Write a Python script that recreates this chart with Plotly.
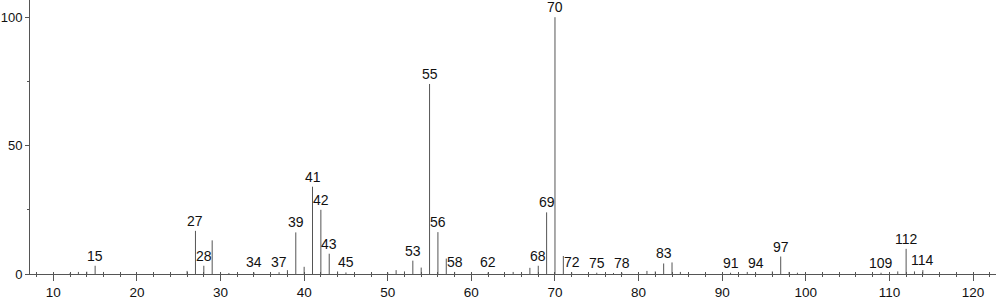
import plotly.graph_objects as go

# m/z values and relative intensities (%)
mz = [12, 13, 14, 15, 16, 26, 27, 28, 29, 30, 31, 34, 37, 38, 39, 40, 41, 42, 43, 44,
      45, 50, 51, 52, 53, 54, 55, 56, 57, 58, 62, 65, 66, 67, 68, 69, 70, 71, 72, 75,
      77, 78, 81, 82, 83, 84, 85, 91, 93, 94, 96, 97, 98, 99, 109, 111, 112, 113, 114]
intensity = [0.3, 0.8, 0.9, 3.2, 0.8, 1.2, 16.8, 3.2, 13.1, 0.6, 0.4, 0.6, 0.7, 1.5, 16.2, 2.8, 34.0, 25.0, 7.9, 1.0,
             0.6, 0.6, 1.5, 1.0, 5.2, 2.5, 74.0, 16.3, 6.0, 0.8, 0.6, 0.8, 0.6, 2.4, 3.2, 24.0, 100.0, 7.0, 0.6, 0.5,
             0.4, 0.5, 1.2, 1.0, 4.1, 4.5, 0.8, 0.5, 0.8, 0.5, 1.0, 6.8, 0.8, 0.5, 0.5, 1.0, 9.8, 1.0, 1.5]
labeled = [15, 27, 28, 34, 37, 39, 41, 42, 43, 45, 53, 55, 56, 58, 62, 68, 69, 70, 72, 75,
           78, 83, 91, 94, 97, 109, 112, 114]

xs, ys = [], []
for m, h in zip(mz, intensity):
    xs += [m, m, None]
    ys += [0, h, None]

fig = go.Figure()
fig.add_trace(go.Scatter(x=xs, y=ys, mode="lines",
                         line=dict(color="#555555", width=1),
                         hoverinfo="skip", showlegend=False))
# invisible trace for the overlay axis (inside minor ticks)
fig.add_trace(go.Scatter(x=[mz[0]], y=[0], xaxis="x2", mode="markers",
                         marker=dict(opacity=0), hoverinfo="skip", showlegend=False))

lookup = dict(zip(mz, intensity))
for m in labeled:
    fig.add_annotation(x=m, y=lookup[m], text=str(m), showarrow=False,
                       xanchor="center", yanchor="bottom", yshift=0,
                       font=dict(family="Liberation Sans, Arial", size=14, color="#111111"))

xr = [7.21, 122.75]
fig.update_layout(
    width=996, height=299,
    margin=dict(l=30, r=0, t=0, b=25),
    paper_bgcolor="white", plot_bgcolor="white",
    font=dict(family="Liberation Sans, Arial", size=13, color="#111111"),
    xaxis=dict(range=xr, showgrid=False, zeroline=False, showline=True, automargin=False,
               linecolor="#555555", linewidth=1,
               ticks="outside", tickvals=list(range(10, 121, 10)), ticklen=6,
               tickcolor="#555555", tickwidth=1,
               minor=dict(tickvals=list(range(8, 123, 2)), ticks="outside", ticklen=2,
                          tickcolor="#555555", tickwidth=1),
               tickfont=dict(size=13.5)),
    xaxis2=dict(range=xr, overlaying="x", anchor="y", side="bottom", automargin=False,
                showgrid=False, zeroline=False, showline=False, showticklabels=False,
                ticks="inside", tickvals=list(range(8, 123, 2)), ticklen=2,
                tickcolor="#555555", tickwidth=1),
    yaxis=dict(range=[0, 106.7], showgrid=False, zeroline=False, showline=True, automargin=False,
               linecolor="#555555", linewidth=1,
               ticks="outside", tickvals=[0, 50, 100], ticklen=4,
               tickcolor="#555555", tickwidth=1,
               minor=dict(tickvals=[25, 75], ticks="outside", ticklen=2,
                          tickcolor="#555555", tickwidth=1),
               tickfont=dict(size=13)),
)

fig.write_html("out.html")
